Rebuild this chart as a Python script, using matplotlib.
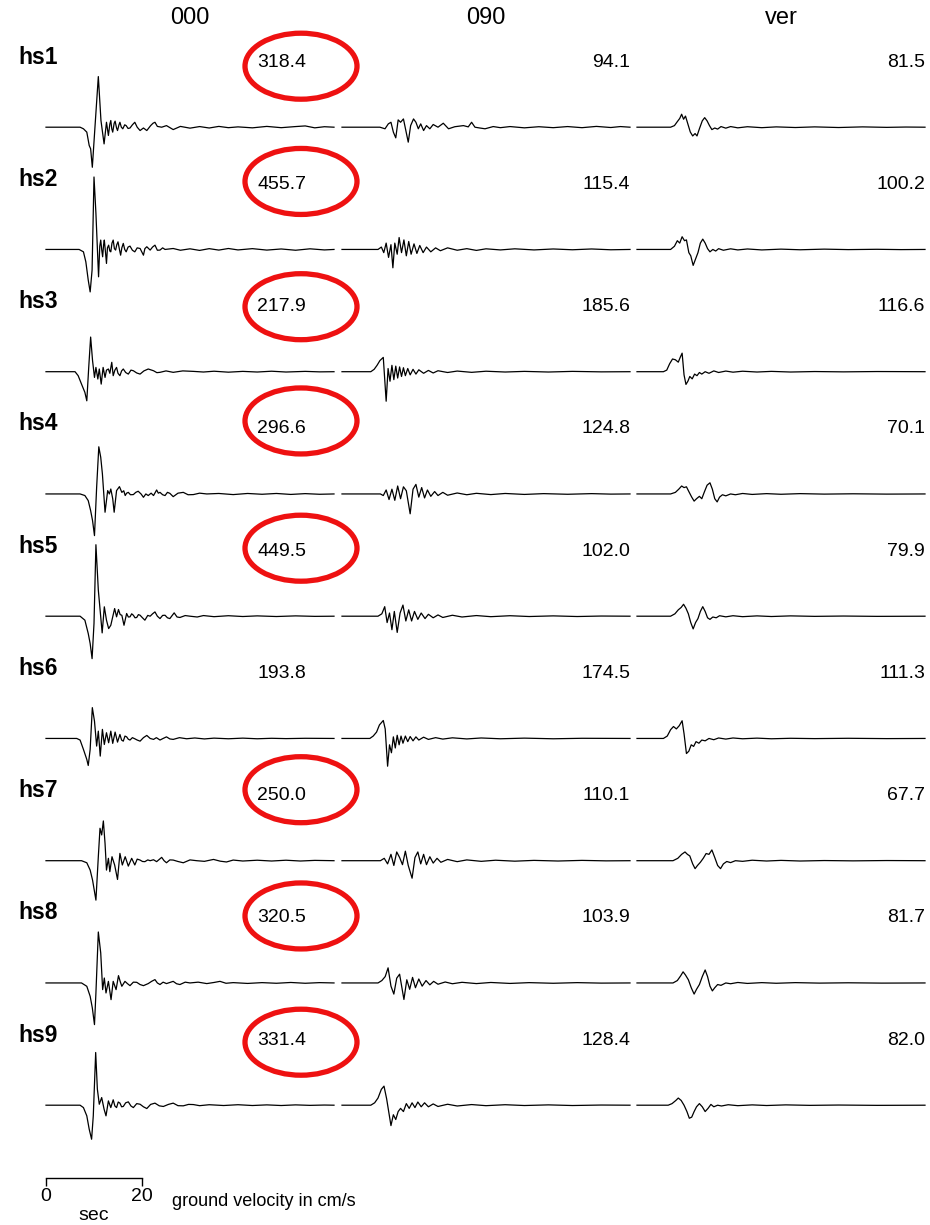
import matplotlib
matplotlib.use("Agg")
import matplotlib.pyplot as plt
from matplotlib.patches import Ellipse

plt.rcParams['font.family'] = ['Liberation Sans', 'DejaVu Sans']

# ground velocity traces, (sec, cm/s)
hs1_000 = [(0,0),(7.1,0),(7.8,-10),(8.5,-31),(9.0,-115),(9.3,-136),(9.65,-252),(10.2,0),(10.9,318.4),(11.45,42),(12.1,-105),(12.6,31),(13.0,-52),(13.3,20),(13.5,42),(13.7,-10),(13.9,-31),(14.2,25),(14.4,38),(14.7,-5),(14.9,-21),(15.2,15),(15.4,31),(15.7,0),(16.0,-10),(16.4,15),(16.7,10),(17.1,-8),(17.5,-5),(18.0,15),(18.5,31),(19.0,0),(19.6,-21),(20.3,-5),(21.0,-21),(21.8,10),(22.3,25),(22.7,31),(23.2,5),(24.1,0),(25.1,10),(26.5,-15),(28,5),(30,-6),(32,4),(34,-5),(36,5),(38,-3),(40,2),(43,-4),(46,5),(49,-3),(52,4),(54,8),(56,-4),(58,3),(60,0)]
hs2_000 = [(0,0),(6.9,0),(7.8,-15),(8.3,-78),(8.8,-193),(9.2,-267),(9.6,-130),(10.0,455.7),(10.4,227),(10.95,-172),(11.2,20),(11.4,59),(11.6,0),(11.8,-46),(12.0,30),(12.15,59),(12.4,-20),(12.6,-88),(12.8,10),(13.05,27),(13.3,-10),(13.5,-15),(13.75,40),(14.0,59),(14.25,5),(14.5,-4),(14.75,30),(15.0,48),(15.3,0),(15.55,-36),(15.8,10),(16.1,38),(16.4,0),(16.7,-15),(17.1,15),(17.5,21),(18.0,-5),(18.5,-15),(19.0,10),(19.6,6),(20.3,-36),(20.6,5),(21.0,17),(21.7,-4),(22.2,15),(22.7,27),(23.2,-5),(23.75,-4),(24.3,10),(24.8,0),(26.5,6),(28,-5),(30,4),(32,-6),(34,5),(36,-4),(38,6),(40,-3),(43,5),(46,-4),(49,3),(52,-5),(55,4),(58,-3),(60,0)]
hs3_000 = [(0,0),(6.05,0),(6.7,-25),(7.4,-78),(8.1,-130),(8.5,-183),(8.9,27),(9.3,217.9),(9.7,69),(10.1,-36),(10.4,27),(10.8,-46),(11.1,17),(11.5,-78),(11.9,27),(12.3,-36),(12.6,10),(13.0,17),(13.3,-10),(13.7,59),(14.0,-25),(14.35,10),(14.7,27),(15.0,-10),(15.4,-25),(15.75,5),(16.1,17),(16.6,-5),(17.15,-15),(17.7,10),(18.2,6),(18.9,-8),(19.6,-15),(20.4,5),(21.3,17),(22.4,6),(23.1,-6),(23.75,-4),(25,5),(26.5,-4),(28.5,5),(30.7,2),(32.8,-2),(35,3),(38,-3),(41,2),(44,-2),(47,3),(50,-2),(54,2),(57,-1),(60,0)]
hs4_000 = [(0,0),(7.1,0),(8.1,-10),(8.8,-42),(9.3,-105),(9.7,-168),(10.1,-262),(10.55,42),(11.0,296.6),(11.4,231),(11.75,126),(12.3,-115),(12.85,21),(13.2,0),(13.5,31),(13.9,-30),(14.2,-115),(14.7,21),(15.3,46),(15.8,10),(16.2,20),(16.5,-10),(16.8,5),(17.15,10),(17.6,-5),(18.2,-4),(18.7,10),(19.2,17),(19.8,0),(20.3,-21),(20.8,0),(21.3,-10),(21.9,5),(22.4,-10),(23.05,25),(23.4,5),(23.75,10),(24.3,-5),(24.8,-10),(25.3,10),(25.8,4),(26.5,-17),(27.5,5),(28.6,10),(29.6,-5),(30.7,-4),(32,5),(33.5,0),(36,3),(39,-4),(42,3),(45,-2),(48,3),(51,-3),(54,2),(57,-2),(60,0)]
hs5_000 = [(0,0),(7.1,0),(8.1,-25),(8.8,-109),(9.2,-172),(9.6,-267),(10.0,-46),(10.4,449.5),(10.9,164),(11.4,-4),(11.7,-105),(12.15,59),(12.6,-25),(13.05,-78),(13.5,-57),(13.9,-4),(14.3,48),(14.7,-4),(15.1,42),(15.45,10),(15.8,6),(16.25,-57),(16.8,17),(17.15,-5),(17.5,-4),(17.85,15),(18.2,6),(18.55,-10),(18.9,-8),(19.25,10),(19.6,6),(20.1,-10),(20.6,-25),(21.2,5),(21.7,0),(22.2,15),(22.7,27),(23.2,0),(23.75,-15),(24.3,5),(24.8,6),(25.3,-10),(25.8,-15),(26.7,21),(27.3,-5),(27.9,-8),(29,4),(30.0,0),(31.5,-5),(32.8,4),(35,-3),(38,3),(41,-2),(44,2),(48,-2),(52,2),(56,-1),(60,0)]
hs6_000 = [(0,0),(6.4,0),(7.1,-10),(7.8,-69),(8.5,-132),(8.8,-170),(9.2,-69),(9.65,193.8),(10.1,109),(10.55,-48),(10.9,46),(11.3,-111),(11.75,57),(12.15,-38),(12.6,36),(13.05,-27),(13.5,46),(13.9,-31),(14.4,40),(14.9,-23),(15.4,25),(15.75,-10),(16.1,-17),(16.45,15),(16.8,10),(17.15,-5),(17.5,-10),(18.0,5),(18.5,-2),(19.0,-10),(19.6,-17),(20.3,5),(21.0,19),(21.7,0),(22.4,-6),(23.0,5),(23.75,-10),(24.4,0),(25.1,10),(25.8,-3),(26.5,-6),(27.8,5),(29.3,-2),(31,3),(33,-3),(35,2),(38,-2),(41,2),(44,-2),(47,1),(50,-1),(54,1),(60,0)]
hs7_000 = [(0,0),(7.4,0),(8.5,-13),(9.2,-59),(9.7,-122),(10.4,-248),(10.9,25),(11.25,204),(11.6,162),(11.95,250.0),(12.3,109),(12.6,-59),(13.0,15),(13.3,-69),(13.75,25),(14.3,-27),(14.9,-118),(15.4,46),(15.9,-27),(16.5,25),(17.15,-34),(17.85,15),(18.5,-27),(19.0,10),(19.6,4),(20.1,-5),(20.6,-6),(21.2,5),(21.7,0),(22.4,6),(23.05,-6),(24.1,21),(24.6,0),(25.1,-13),(25.8,5),(26.5,4),(27.5,-5),(28.6,-13),(30,5),(31.4,0),(33,-4),(34.9,8),(36.3,-3),(37.6,-8),(39,4),(41,-2),(44,3),(47,-2),(50,3),(53,-2),(56,2),(60,0)]
hs8_000 = [(0,0),(7.4,0),(8.5,-21),(9.2,-84),(9.65,-157),(10.1,-262),(10.4,-63),(10.9,320.5),(11.4,189),(11.8,-42),(12.15,31),(12.5,-63),(13.0,10),(13.55,-105),(14.0,10),(14.6,-42),(15.1,46),(15.5,5),(15.8,-21),(16.45,10),(17.0,-5),(17.5,-17),(18.2,5),(18.9,4),(19.6,-10),(20.3,-17),(21.3,-4),(22.0,10),(22.7,21),(23.2,0),(23.75,-10),(24.4,5),(25.1,-4),(26.5,10),(27.2,-5),(27.9,-10),(29,5),(30.0,0),(31.7,5),(33.5,-4),(35,3),(36.25,10),(37.5,-2),(39,2),(42,-3),(45,2),(48,-2),(51,3),(54,-2),(57,2),(60,0)]
hs9_000 = [(0,0),(7.1,0),(7.8,-15),(8.5,-67),(9.0,-151),(9.5,-214),(9.85,-67),(10.35,331.4),(10.7,101),(11.1,6),(11.6,48),(12.1,-25),(12.5,-67),(13.0,27),(13.5,-15),(14.0,34),(14.35,-5),(14.7,-15),(15.05,20),(15.4,13),(15.75,-10),(16.1,-8),(16.6,15),(17.15,21),(17.7,-5),(18.2,-15),(18.9,10),(19.6,6),(20.3,-10),(21.0,-21),(21.8,5),(22.7,13),(23.6,-4),(24.45,-8),(25.5,5),(26.5,13),(27.5,-3),(28.6,-4),(29.7,5),(30.7,4),(32,-3),(34,3),(37,-2),(40,3),(43,-2),(46,2),(49,-2),(52,2),(55,-1),(58,1),(60,0)]

hs1_090 = [(0,0),(7.9,0),(8.96,-10),(9.65,21),(10.2,31),(10.7,-31),(11.2,-67),(11.7,46),(12.2,31),(12.8,52),(13.3,-21),(13.8,-94.1),(14.3,10),(14.9,52),(15.4,31),(15.9,-10),(16.4,21),(17.0,-21),(17.6,10),(18.3,-10),(19.0,17),(20.0,0),(21.1,25),(22.2,-10),(23.5,3),(25.3,10),(26.3,2),(27.0,31),(27.7,0),(28.7,-5),(29.8,-10),(31.5,4),(33,-3),(35,4),(38,-4),(41,3),(44,-3),(47,4),(50,-3),(53,5),(56,-2),(58,4),(60,0)]
hs2_090 = [(0,0),(7.5,0),(8.2,15),(8.7,-20),(9.2,40),(9.7,-50),(10.2,30),(10.6,-115.4),(11.0,40),(11.5,-30),(11.9,75),(12.4,-20),(12.9,60),(13.4,-40),(13.9,50),(14.4,-30),(15.0,35),(15.6,-25),(16.2,25),(16.9,-20),(17.6,15),(18.5,-15),(19.5,10),(20.5,-8),(22,10),(24,-5),(26,5),(28,-6),(30,4),(33,-3),(36,4),(40,-3),(44,3),(48,-2),(52,3),(56,-2),(60,0)]
hs3_090 = [(0,0),(6.0,0),(6.7,15),(7.3,40),(7.9,70),(8.6,90),(9.2,-185.6),(9.6,20),(10.0,-60),(10.4,40),(10.8,-50),(11.2,35),(11.6,-40),(12.0,30),(12.4,-30),(12.8,25),(13.2,-25),(13.7,20),(14.2,-20),(14.8,15),(15.4,-15),(16,12),(17,-10),(18,8),(19,-8),(20,6),(22,-5),(24,4),(27,-4),(30,3),(34,-2),(38,2),(43,-2),(48,2),(54,-1),(60,0)]
hs4_090 = [(0,0),(8,0),(8.6,-10),(9.2,25),(9.8,-35),(10.4,30),(11,-40),(11.6,50),(12.2,-30),(12.8,45),(13.4,20),(14.2,-124.8),(14.8,30),(15.4,60),(16,-20),(16.6,40),(17.2,-25),(17.8,25),(18.5,-15),(19.3,15),(20,-10),(21,10),(22,-8),(24,6),(26,-5),(28,4),(31,-4),(34,3),(38,-3),(42,2),(47,-2),(52,2),(56,-1),(60,0)]
hs5_090 = [(0,0),(7.5,0),(8.3,15),(8.9,60),(9.4,-40),(9.9,20),(10.4,-85),(10.9,30),(11.5,-102.0),(12.1,20),(12.7,70),(13.3,-30),(13.9,40),(14.5,-30),(15.1,30),(15.8,-20),(16.5,20),(17.3,-15),(18,12),(19,-10),(20,8),(21,-8),(23,6),(25,-5),(28,4),(31,-3),(35,3),(39,-2),(44,2),(49,-2),(54,1),(60,0)]
hs6_090 = [(0,0),(5.8,0),(6.5,15),(7.2,40),(7.8,85),(8.6,113),(9.0,60),(9.5,-174.5),(9.9,-40),(10.3,-90),(10.7,10),(11.1,-60),(11.5,20),(11.9,-40),(12.3,15),(12.7,-30),(13.2,15),(13.7,-20),(14.2,12),(14.8,-15),(15.4,10),(16,-10),(17,8),(18,-6),(19.5,5),(21,-4),(23,4),(26,-3),(29,3),(33,-2),(38,2),(44,-2),(50,1),(60,0)]
hs7_090 = [(0,0),(8,0),(8.8,15),(9.5,-20),(10.2,40),(10.8,-30),(11.4,55),(12,20),(12.6,-25),(13.2,60),(13.8,-30),(14.6,-110.1),(15.2,20),(15.8,55),(16.4,-20),(17,40),(17.6,-25),(18.3,25),(19,-15),(19.8,15),(20.6,-10),(22,8),(24,-6),(26,5),(29,-4),(32,3),(36,-3),(40,2),(45,-2),(50,2),(55,-1),(60,0)]
hs8_090 = [(0,0),(7.5,0),(8.3,15),(9.0,40),(9.6,95),(10.2,-20),(10.8,-70),(11.4,30),(12.0,55),(12.9,-103.9),(13.5,20),(14.1,-40),(14.7,35),(15.3,-30),(16,25),(16.7,-20),(17.5,15),(18.3,-12),(19.1,10),(20,-8),(21.5,6),(23,-5),(25,4),(28,-4),(31,3),(35,-3),(39,2),(44,-2),(49,2),(54,-1),(60,0)]
hs9_090 = [(0,0),(6.0,0),(6.8,15),(7.5,45),(8.2,100),(8.75,120),(9.3,40),(10.2,-128.4),(10.7,-60),(11.2,-90),(11.7,-40),(12.2,-20),(12.8,-40),(13.4,10),(14,-20),(14.6,15),(15.2,-15),(15.8,20),(16.5,-10),(17.2,15),(18,-10),(19,8),(20,-8),(22,6),(24,-5),(27,4),(30,-3),(34,3),(38,-2),(43,2),(48,-2),(54,1),(60,0)]

hs1_ver = [(0,0),(7.0,0),(7.8,10),(8.4,35),(8.9,55),(9.3,81.5),(9.7,50),(10.1,70),(10.6,20),(11.1,-30),(11.6,-55),(12.1,-40),(12.5,-55),(13.0,-10),(13.6,40),(14.1,60),(14.6,40),(15.1,10),(15.6,-15),(16.2,-5),(16.8,-12),(17.5,4),(18.5,-6),(19.5,4),(21,-4),(23,3),(26,-3),(29,2),(33,-2),(37,2),(42,-2),(47,2),(52,-1),(56,1),(60,0)]
hs2_ver = [(0,0),(7,0),(7.8,20),(8.4,55),(8.9,40),(9.4,80),(9.9,55),(10.3,60),(10.8,-20),(11.2,-40),(11.7,-100.2),(12.2,-60),(12.7,-20),(13.2,40),(13.7,65),(14.2,40),(14.7,5),(15.2,-15),(15.8,0),(16.4,-10),(17,5),(18,-5),(19.5,4),(21,-3),(23,3),(26,-3),(30,2),(34,-2),(39,2),(44,-1),(50,1),(55,-1),(60,0)]
hs3_ver = [(0,0),(5.5,0),(6.2,10),(6.8,50),(7.4,80),(8.0,75),(8.6,60),(9.0,90),(9.4,116.6),(9.8,-20),(10.2,-80),(10.6,-60),(11.0,-30),(11.5,-45),(12,-15),(12.5,-25),(13,-5),(13.5,-15),(14.2,0),(15,-10),(16,5),(17,-5),(18.5,4),(20,-3),(22,3),(25,-2),(28,2),(32,-2),(37,1),(43,-1),(50,1),(60,0)]
hs4_ver = [(0,0),(7,0),(8,10),(8.7,30),(9.3,50),(9.8,40),(10.3,45),(10.8,15),(11.4,-20),(11.9,-45),(12.4,-30),(13,-15),(13.5,-30),(14.0,10),(14.6,55),(15.2,70.1),(15.7,30),(16.2,-30),(16.7,-50),(17.2,-20),(17.8,-5),(18.5,-12),(19.5,0),(20.5,-5),(22,3),(24,-3),(27,2),(30,-2),(34,2),(39,-1),(45,1),(52,-1),(60,0)]
hs5_ver = [(0,0),(7,0),(7.9,15),(8.6,40),(9.2,55),(9.7,75),(10.2,50),(10.7,15),(11.2,-40),(11.7,-79.9),(12.2,-40),(12.7,-15),(13.2,30),(13.7,60),(14.2,30),(14.7,-10),(15.2,-20),(15.8,-5),(16.5,-10),(17.2,3),(18.5,-4),(20,3),(22,-3),(25,2),(28,-2),(32,2),(37,-1),(43,1),(50,-1),(60,0)]
hs6_ver = [(0,0),(5.5,0),(6.3,15),(7,55),(7.6,75),(8.2,60),(8.8,80),(9.4,111.3),(9.8,30),(10.3,-95),(10.8,-80),(11.3,-40),(11.8,-50),(12.3,-20),(12.9,-30),(13.5,-10),(14.2,-15),(15,0),(16,-8),(17,3),(18.5,-4),(20,3),(22,-2),(25,2),(28,-2),(32,1),(37,-1),(44,1),(52,-1),(60,0)]
hs7_ver = [(0,0),(7.5,0),(8.5,15),(9.3,40),(10,55),(10.5,40),(11,30),(11.6,-20),(12.1,-50),(12.6,-30),(13.2,-10),(13.8,15),(14.4,45),(15,40),(15.6,67.7),(16.2,20),(16.8,-30),(17.4,-50),(18,-20),(18.7,-5),(19.5,-12),(20.5,0),(22,-4),(24,3),(27,-2),(30,2),(34,-2),(39,1),(45,-1),(52,1),(60,0)]
hs8_ver = [(0,0),(7.5,0),(8.4,15),(9.1,45),(9.6,70),(10.1,50),(10.7,20),(11.3,-30),(11.9,-70),(12.4,-40),(13,-10),(13.6,40),(14.2,81.7),(14.7,40),(15.2,-20),(15.7,-50),(16.2,-30),(16.8,-10),(17.5,-15),(18.5,0),(19.5,-5),(21,3),(23,-3),(26,2),(29,-2),(33,2),(38,-1),(44,1),(51,-1),(60,0)]
hs9_ver = [(0,0),(6.5,0),(7.3,10),(8.1,30),(8.6,45),(9.2,30),(9.8,0),(10.4,-40),(10.9,-82.0),(11.4,-75),(11.9,-40),(12.4,-10),(13,10),(13.6,-10),(14.2,-40),(14.8,-20),(15.4,5),(16,-10),(16.8,0),(17.6,-5),(19,3),(21,-3),(24,2),(27,-2),(31,2),(36,-1),(42,1),(50,-1),(60,0)]

stations = ['hs1', 'hs2', 'hs3', 'hs4', 'hs5', 'hs6', 'hs7', 'hs8', 'hs9']
components = ['000', '090', 'ver']
peak_000 = ['318.4', '455.7', '217.9', '296.6', '449.5', '193.8', '250.0', '320.5', '331.4']
peak_090 = ['94.1', '115.4', '185.6', '124.8', '102.0', '174.5', '110.1', '103.9', '128.4']
peak_ver = ['81.5', '100.2', '116.6', '70.1', '79.9', '111.3', '67.7', '81.7', '82.0']
circled = ['hs1', 'hs2', 'hs3', 'hs4', 'hs5', 'hs7', 'hs8', 'hs9']

traces = [
    [hs1_000, hs1_090, hs1_ver], [hs2_000, hs2_090, hs2_ver], [hs3_000, hs3_090, hs3_ver],
    [hs4_000, hs4_090, hs4_ver], [hs5_000, hs5_090, hs5_ver], [hs6_000, hs6_090, hs6_ver],
    [hs7_000, hs7_090, hs7_ver], [hs8_000, hs8_090, hs8_ver], [hs9_000, hs9_090, hs9_ver],
]
peaks = [peak_000, peak_090, peak_ver]

W, H = 930, 1225
fig = plt.figure(figsize=(W / 100, H / 100), dpi=100)

k = 0.159            # pixels per cm/s
col_x = [46, 342, 637]
col_w = 288
ylo, yhi = -300, 500
val_x = [54.2, 60, 60]
ell_dy = [-61, -68, -65, -73, -68, 0, -71, -67, -63]

for i, st in enumerate(stations):
    base = 127.2 + 122.25 * i
    for j in range(3):
        ax = fig.add_axes([col_x[j] / W, (H - base - (-ylo) * k) / H,
                           col_w / W, (yhi - ylo) * k / H])
        ax.set_xlim(0, 60)
        ax.set_ylim(ylo, yhi)
        ax.axis('off')
        t, v = zip(*traces[i][j])
        ax.plot(t, v, color='black', lw=0.9, clip_on=False)
        ax.text(val_x[j], 65 / k, peaks[j][i], ha='right', va='center', fontsize=14)
    fig.text(18 / W, 1 - (base - 70) / H, st, fontsize=16.5, fontweight='bold',
             ha='left', va='center')
    if st in circled:
        fig.add_artist(Ellipse((301 / W, 1 - (base + ell_dy[i]) / H), 112 / W, 66 / H,
                               transform=fig.transFigure, fill=False,
                               ec='#ee1111', lw=3.8))

for j, c in enumerate(components):
    fig.text((col_x[j] + col_w / 2) / W, 1 - 18 / H, c, fontsize=17, ha='center', va='center')

# time scale bar
sb = fig.add_axes([col_x[0] / W, (H - 1178) / H, col_w / W, 0.01])
sb.set_xlim(0, 60)
for s in ['top', 'left', 'right']:
    sb.spines[s].set_visible(False)
sb.spines['bottom'].set_bounds(0, 20)
sb.spines['bottom'].set_linewidth(1)
sb.set_yticks([])
sb.set_xticks([0, 20])
sb.set_xticklabels(['0', '20'])
sb.tick_params(axis='x', length=6, width=1, labelsize=14, pad=1)
sb.patch.set_alpha(0)
fig.text(94 / W, 1 - 1216 / H, 'sec', fontsize=14, ha='center', va='center')
fig.text(172 / W, 1 - 1201 / H, 'ground velocity in cm/s', fontsize=13, ha='left', va='center')

fig.savefig('out.png', dpi=100)
